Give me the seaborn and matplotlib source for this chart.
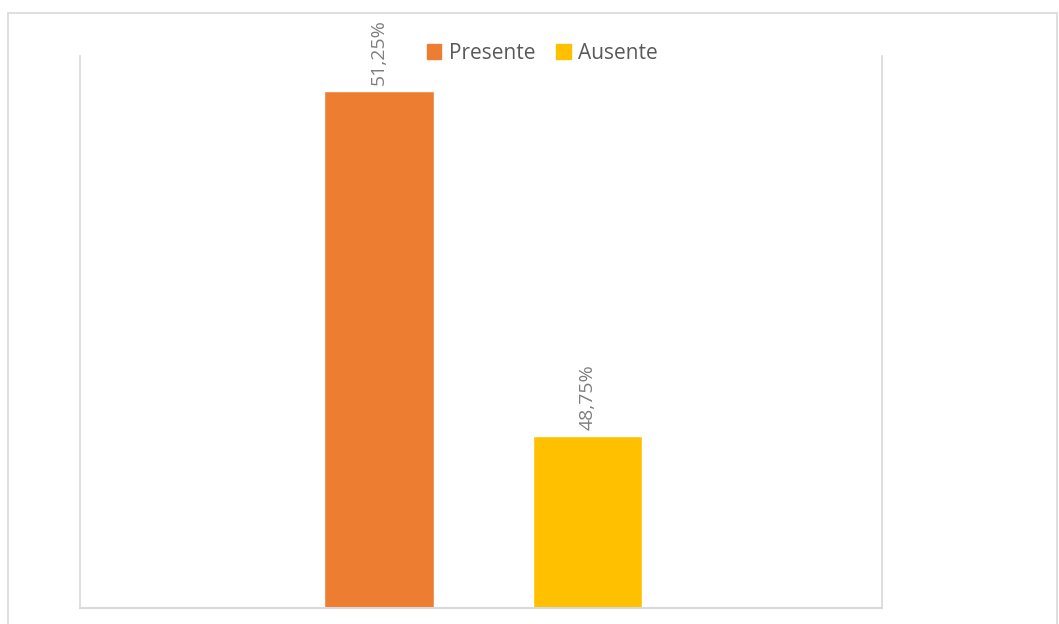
import matplotlib
matplotlib.use('Agg')
import matplotlib.pyplot as plt
import matplotlib.patches as mpatches
import pandas as pd
import seaborn as sns

categories = ['Presente', 'Ausente']
values = [51.25, 48.75]
labels = ['51,25%', '48,75%']
colors = ['#ED7D31', '#FFC000']

sns.set_style('white')
plt.rcParams['font.family'] = ['Open Sans', 'DejaVu Sans']

df = pd.DataFrame({'estado': categories, 'porcentaje': values})

fig = plt.figure(figsize=(10.59, 6.24), dpi=100)
ax = fig.add_axes([0.0755, 0.0256, 0.7573, 0.8846])

sns.barplot(data=df, x='estado', y='porcentaje', hue='estado',
            palette=colors, width=0.526, dodge=False, legend=False,
            saturation=1, ax=ax)

ax.set_ylim(47.5, 51.5)
ax.set_xlim(-1.43, 2.41)
ax.set_xticks([])
ax.set_yticks([])
ax.set_xlabel('')
ax.set_ylabel('')

for s in ['left', 'right']:
    ax.spines[s].set_color('#d9d9d9')
    ax.spines[s].set_linewidth(1.2)
ax.spines['bottom'].set_color('#d9d9d9')
ax.spines['bottom'].set_linewidth(1.5)
ax.spines['top'].set_visible(False)

for i, (v, t) in enumerate(zip(values, labels)):
    ax.annotate(t, (i, v), xytext=(0, 4), textcoords='offset points',
                rotation=90, ha='center', va='bottom',
                color='#7f7f7f', fontsize=14)

handles = [mpatches.Patch(color=c, label=l) for c, l in zip(colors, categories)]
fig.legend(handles=handles, loc='center', bbox_to_anchor=(0.512, 0.915),
           ncol=2, frameon=False, fontsize=15, handlelength=0.7,
           handleheight=0.7, handletextpad=0.35, columnspacing=1.0,
           labelcolor='#595959')

# outer chart frame
fig.patches.append(mpatches.Rectangle((8 / 1059, -0.02), 1049 / 1059, 1 - 12.5 / 624 + 0.02,
                                      transform=fig.transFigure, fill=False,
                                      edgecolor='#d9d9d9', linewidth=1.2))

fig.savefig('out.png', dpi=100)
